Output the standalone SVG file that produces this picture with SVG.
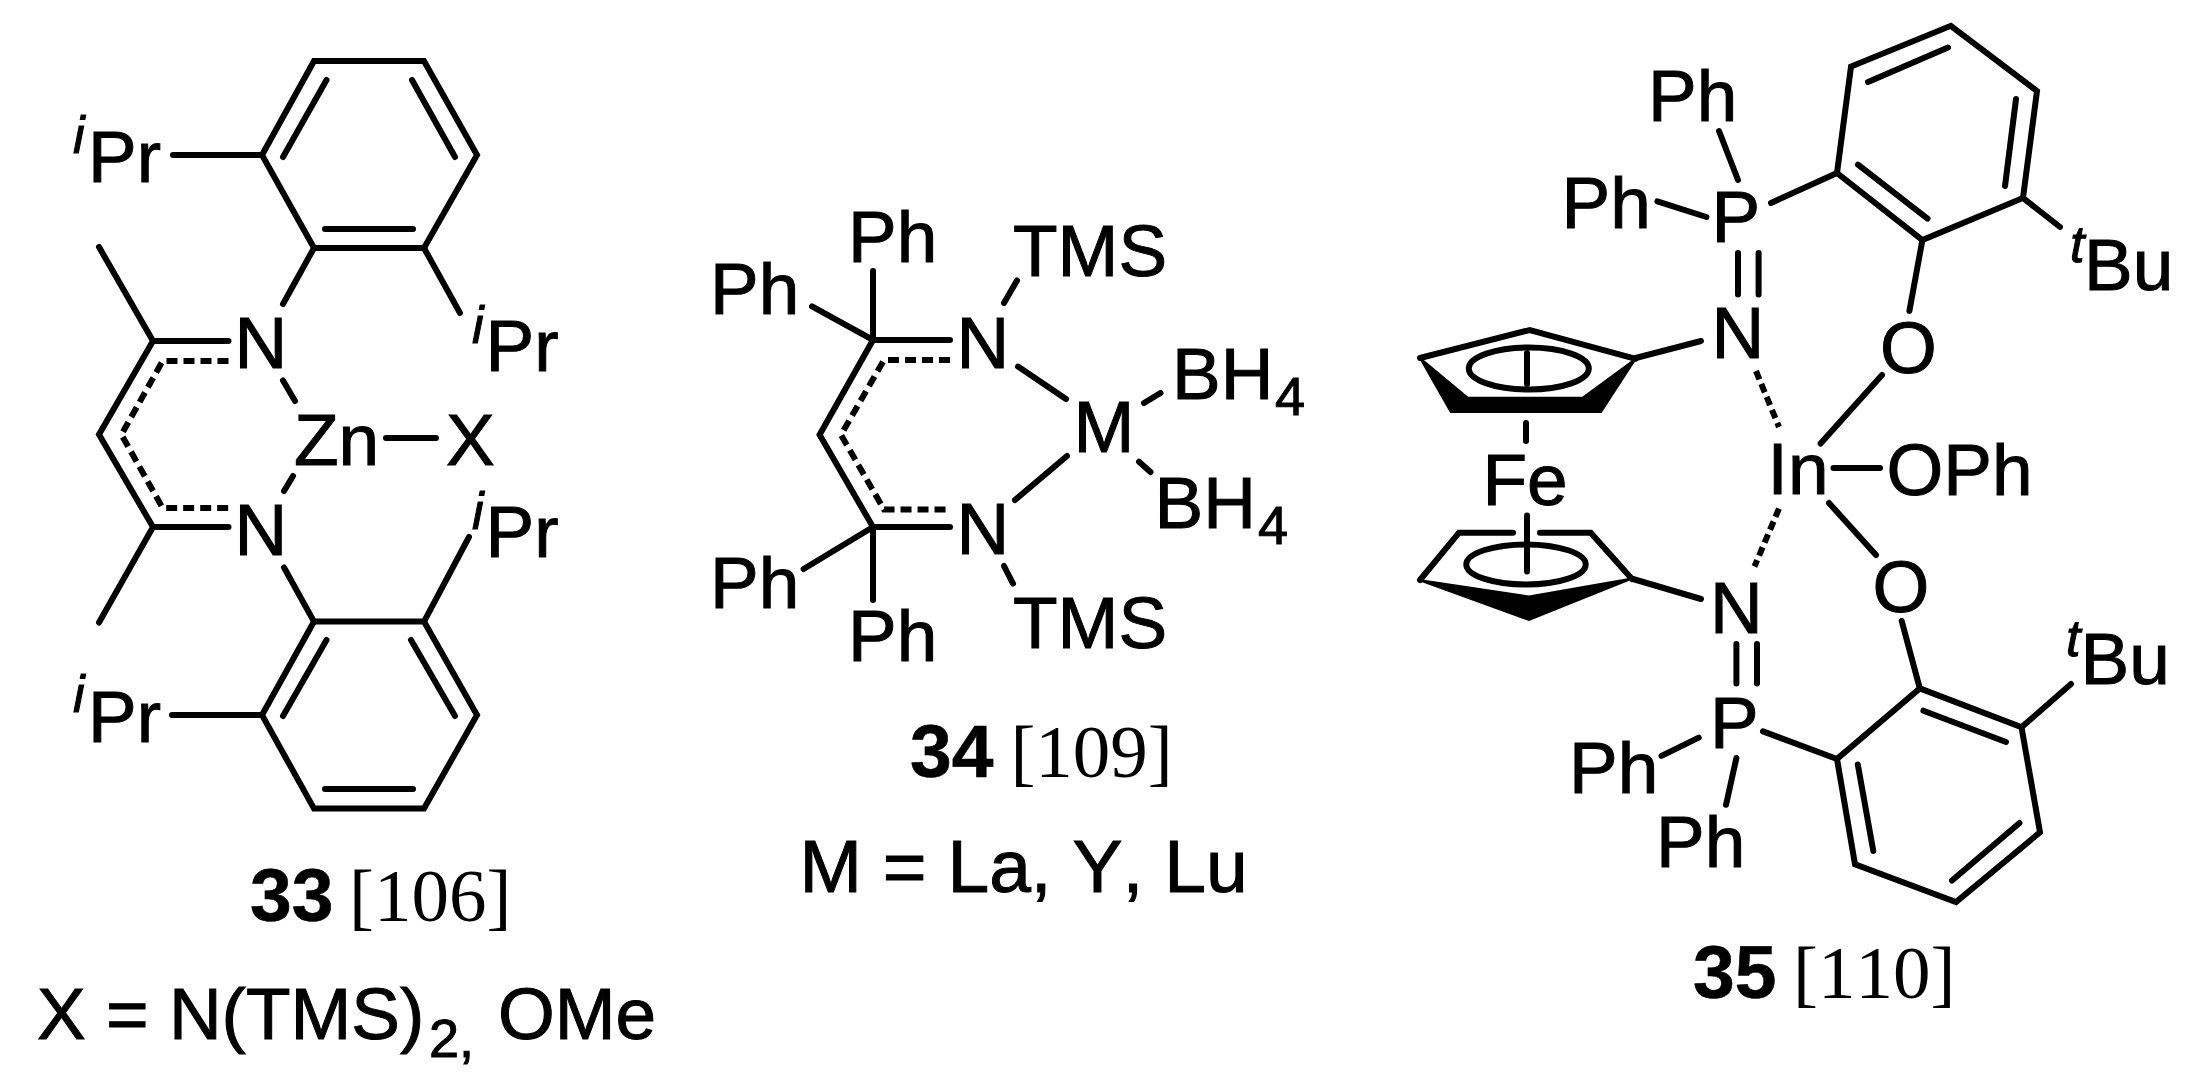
<svg xmlns="http://www.w3.org/2000/svg" width="2190" height="1078" viewBox="0 0 2190 1078">
<style>
text{font-family:"Liberation Sans",Arial,sans-serif;font-size:73px;fill:#000;stroke:#000;stroke-width:1;font-kerning:none}
.s{font-size:52px;font-style:italic}
.b{font-size:54px}
.c{font-family:"Liberation Serif","Times New Roman",serif;font-size:75px;stroke-width:0}
.n{font-family:"Liberation Sans",Arial,sans-serif;font-weight:bold;font-size:75px;stroke-width:0.6}
.l{font-size:75px}
path{fill:none;stroke:#000;stroke-width:6;stroke-linecap:round;stroke-linejoin:miter}
.d{stroke-dasharray:11 6;stroke-linecap:butt}
.k{stroke-dasharray:9 5;stroke-linecap:butt}
.f{fill:#000;stroke:#000;stroke-width:2;stroke-linejoin:miter}
ellipse{fill:none;stroke:#000;stroke-width:6}
</style>
<rect width="2190" height="1078" fill="#fff"/>
<g id="compound-33">
<path d="M314 61H424L477 155L424 248H314L262 155Z"/>
<path d="M326.5 80L283 157M412 80L455 157M325 229H413M173 155H262M314 248L283 304M424 248L460 313"/>
<path d="M99 247L153 341H228.5M153 341L99 434.6L153 527H228.5M153 527L99 622.6"/>
<path class="d" d="M228.5 361H162.6L121.4 434.6L162.6 508H228.5"/>
<path d="M283 380.5L295 401M293 476L284 491M386 438H436"/>
<path d="M314 621.6H424L477 715L424 808.6H314L262 715Z"/>
<path d="M326.5 640L283 716M411 640L455 716M325 789H413M172 715H262M284 567.5L314 621.6M424 621.6L469 537"/>
<text><tspan class="s" x="73" y="153">i</tspan><tspan x="88" y="182">Pr</tspan></text>
<text><tspan class="s" x="472" y="343">i</tspan><tspan x="485.5" y="371">Pr</tspan></text>
<text x="234.4" y="368">N</text>
<text x="294" y="465">Zn</text>
<text x="446" y="465">X</text>
<text x="234.4" y="555">N</text>
<text><tspan class="s" x="472" y="529">i</tspan><tspan x="485.5" y="557">Pr</tspan></text>
<text><tspan class="s" x="73" y="712">i</tspan><tspan x="88" y="741.5">Pr</tspan></text>
<text class="c"><tspan class="n" x="250" y="920.5">33</tspan><tspan x="349" y="920.5">[106]</tspan></text>
<text x="37" y="1039">X = N(TMS)<tspan class="b" x="429" y="1056.5">2,</tspan><tspan x="498" y="1039">OMe</tspan></text>
</g>
<g id="compound-34">
<path d="M873 271V340M812 306.4L873 340H950M873 340L819.6 434.8L873 527H950M873 527V600M873 527L803.6 569"/>
<path class="d" d="M950 360H884L841 434.8L884 509.5H950"/>
<path d="M1004 303L1017 280.5M1018 366.6L1066 399M1144 403L1160.5 393M1139 461.7L1150.5 472M1067 456L1015 500M1004 566L1013 583.6"/>
<text x="848" y="261.6">Ph</text>
<text x="1013" y="276.4">TMS</text>
<text x="710" y="314.3">Ph</text>
<text x="956.5" y="367.7">N</text>
<text x="1073.6" y="452">M</text>
<text x="1172" y="398.7">BH<tspan class="b" x="1275" y="415">4</tspan></text>
<text x="1154.5" y="527.8">BH<tspan class="b" x="1258" y="544">4</tspan></text>
<text x="956.5" y="554.3">N</text>
<text x="710" y="608">Ph</text>
<text x="848" y="661.4">Ph</text>
<text x="1013" y="648.3">TMS</text>
<text class="c"><tspan class="n" x="910" y="777">34</tspan><tspan x="1010.4" y="777">[109]</tspan></text>
<text class="l" x="799.5" y="892.3">M = La, Y, Lu</text>
</g>
<g id="compound-35">
<path d="M1950.8 25.8L2037 91L2023 198L1922.4 240L1837 173L1851 66.5Z"/>
<path d="M1868 82L1948 47.5M2016 99L2005 186M1858 164.6L1927.5 218.7M2023 198L2060 227M1771 203L1837 173M1922.4 240L1909.4 311"/>
<path d="M1719 131L1738 180M1657.4 201.4L1706.4 217M1738 253V294.4M1758.6 253V294.4M1882 375L1820.6 443.5M1833.5 468H1880"/>
<path class="k" d="M1756 371L1779 427M1779 508.6L1754.5 566.5"/>
<path d="M1829 503L1876 555M1635.7 358L1701 341M1633 579L1701 599"/>
<path d="M1420 358L1529.8 330L1635.7 358.8"/>
<path class="f" d="M1420 358L1450.8 412H1601L1635.7 358.8L1582.5 397.7H1467.8Z"/>
<ellipse cx="1528.8" cy="368.5" rx="60" ry="21"/>
<path d="M1527 353V384M1526 423V441M1527 515.5V571.6"/>
<path d="M1420 580L1459 532.7H1513M1540 532.7H1590.7L1632 579"/>
<path class="f" d="M1419 580L1529 620L1632 578.5L1529 596.4Z"/>
<ellipse cx="1526" cy="564.4" rx="59.7" ry="20"/>
<path d="M1919.8 688.4L2021.5 727.3L2040 832.3L1956 902L1855 864.3L1837 759Z"/>
<path d="M1901.7 621L1919.8 688.4M1923.4 710.7L2006 742M2019.5 823L1952 880.5M1857.8 764.5L1873.3 851M2021.5 727.3L2071 684"/>
<path d="M1736.4 644V683.5M1757 644V683.5M1763 731.4L1837 759M1698.7 737.6L1661.5 755.9M1736.4 758L1726 804.8"/>
<text x="1648" y="121">Ph</text>
<text x="1561.5" y="228">Ph</text>
<text x="1711.5" y="242">P</text>
<text x="1711.5" y="358">N</text>
<text><tspan class="s" x="2070" y="262">t</tspan><tspan x="2084" y="290">Bu</tspan></text>
<text x="1880" y="373">O</text>
<text x="1482.5" y="505">Fe</text>
<text x="1767.6" y="494">In</text>
<text x="1886.5" y="494.6">OPh</text>
<text x="1710" y="633">N</text>
<text x="1872.5" y="612">O</text>
<text><tspan class="s" x="2066" y="656">t</tspan><tspan x="2080.6" y="684">Bu</tspan></text>
<text x="1710" y="748">P</text>
<text x="1569" y="793.4">Ph</text>
<text x="1656" y="867.4">Ph</text>
<text class="c"><tspan class="n" x="1693" y="997.6">35</tspan><tspan x="1793" y="997.6">[110]</tspan></text>
</g>
</svg>
